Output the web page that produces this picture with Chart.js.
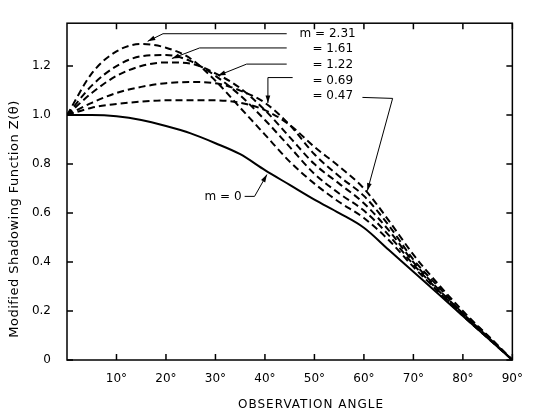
<!DOCTYPE html>
<html>
<head>
<meta charset="utf-8">
<script src="https://cdn.jsdelivr.net/npm/chart.js@4/dist/chart.umd.min.js"></script>
<style>
  html, body { margin: 0; padding: 0; background: #fff; }
  #wrap { width: 535px; height: 418px; }
</style>
</head>
<body>
<div id="wrap"><canvas id="chart"></canvas></div>
<script>
// observation angle in degrees
const angles = [0, 5, 10, 15, 20, 25, 30, 35, 40, 45, 50, 55, 60, 65, 70, 75, 80, 85, 90];

// modified shadowing function Z(theta) for each roughness m
const zM0   = [1.00, 1.00, 0.995, 0.98, 0.955, 0.925, 0.885, 0.84, 0.775, 0.715, 0.655, 0.60, 0.54, 0.45, 0.36, 0.27, 0.18, 0.09, 0];
const zM047 = [1.00, 1.03, 1.045, 1.055, 1.06, 1.06, 1.06, 1.05, 1.02, 0.96, 0.87, 0.79, 0.70, 0.57, 0.43, 0.31, 0.20, 0.10, 0];
const zM069 = [1.00, 1.05, 1.09, 1.115, 1.13, 1.135, 1.13, 1.10, 1.05, 0.96, 0.84, 0.75, 0.67, 0.55, 0.41, 0.30, 0.19, 0.10, 0];
const zM122 = [1.00, 1.09, 1.16, 1.20, 1.215, 1.21, 1.17, 1.11, 1.02, 0.91, 0.80, 0.72, 0.64, 0.53, 0.40, 0.29, 0.19, 0.095, 0];
const zM161 = [1.00, 1.12, 1.20, 1.24, 1.245, 1.22, 1.16, 1.08, 0.98, 0.87, 0.76, 0.68, 0.61, 0.51, 0.39, 0.285, 0.185, 0.095, 0];
const zM231 = [1.00, 1.17, 1.26, 1.29, 1.275, 1.23, 1.14, 1.03, 0.92, 0.81, 0.72, 0.645, 0.58, 0.49, 0.38, 0.28, 0.18, 0.09, 0];

const xTicks = [10, 20, 30, 40, 50, 60, 70, 80, 90];
const yTicks = [0, 0.2, 0.4, 0.6, 0.8, 1.0, 1.2];

// curve labels: text anchor and leader path (angle, Z), last point is the arrow tip
const notes = [
  { text: 'm = 2.31', at: [47.0, 1.332], path: [[44.4, 1.332], [19.4, 1.332], [16.3, 1.301]] },
  { text: '= 1.61',   at: [49.6, 1.270], path: [[44.4, 1.274], [26.8, 1.274], [21.2, 1.231]] },
  { text: '= 1.22',   at: [49.6, 1.204], path: [[44.4, 1.208], [36.3, 1.208], [30.5, 1.161]] },
  { text: '= 0.69',   at: [49.6, 1.138], path: [[45.6, 1.153], [40.6, 1.153], [40.6, 1.049]] },
  { text: '= 0.47',   at: [49.6, 1.080], path: [[59.7, 1.072], [65.8, 1.068], [60.7, 0.691]] },
  { text: 'm = 0',    at: [27.8, 0.668], path: [[35.9, 0.668], [37.9, 0.668], [40.4, 0.757]] }
];

const FONT = '"DejaVu Sans", sans-serif';

function pts(vals) {
  return angles.map((a, i) => ({ x: a, y: vals[i] }));
}

function dashed(vals) {
  return {
    data: pts(vals),
    borderColor: '#000',
    borderWidth: 2,
    borderDash: [7, 4],
    pointRadius: 0,
    cubicInterpolationMode: 'monotone'
  };
}

const framePlugin = {
  id: 'frame',
  afterDraw(chart) {
    const { ctx, chartArea: a, scales } = chart;
    const x = scales.x, y = scales.y;
    ctx.save();
    ctx.strokeStyle = '#000';
    ctx.lineWidth = 1.5;
    ctx.strokeRect(a.left, a.top, a.right - a.left, a.bottom - a.top);
    ctx.beginPath();
    xTicks.forEach(v => {
      const px = x.getPixelForValue(v);
      ctx.moveTo(px, a.bottom); ctx.lineTo(px, a.bottom - 6);
      ctx.moveTo(px, a.top); ctx.lineTo(px, a.top + 6);
    });
    yTicks.forEach(v => {
      const py = y.getPixelForValue(v);
      ctx.moveTo(a.left, py); ctx.lineTo(a.left + 6, py);
      ctx.moveTo(a.right, py); ctx.lineTo(a.right - 6, py);
    });
    ctx.stroke();

    // leader lines and labels
    ctx.lineWidth = 1;
    ctx.fillStyle = '#000';
    ctx.font = '12px ' + FONT;
    ctx.textBaseline = 'middle';
    ctx.textAlign = 'left';
    notes.forEach(n => {
      const p = n.path.map(q => [x.getPixelForValue(q[0]), y.getPixelForValue(q[1])]);
      ctx.beginPath();
      ctx.moveTo(p[0][0], p[0][1]);
      for (let i = 1; i < p.length; i++) ctx.lineTo(p[i][0], p[i][1]);
      ctx.stroke();
      const tip = p[p.length - 1], prev = p[p.length - 2];
      const ang = Math.atan2(tip[1] - prev[1], tip[0] - prev[0]);
      ctx.beginPath();
      ctx.moveTo(tip[0], tip[1]);
      ctx.lineTo(tip[0] - 8 * Math.cos(ang - 0.3), tip[1] - 8 * Math.sin(ang - 0.3));
      ctx.lineTo(tip[0] - 8 * Math.cos(ang + 0.3), tip[1] - 8 * Math.sin(ang + 0.3));
      ctx.closePath();
      ctx.fill();
      ctx.fillText(n.text, x.getPixelForValue(n.at[0]), y.getPixelForValue(n.at[1]));
    });

    // axis titles
    ctx.font = '13px ' + FONT;
    ctx.textAlign = 'center';
    ctx.letterSpacing = '0.5px';
    ctx.save();
    ctx.translate(15, 219);
    ctx.rotate(-Math.PI / 2);
    ctx.fillText('Modified Shadowing Function Z(\u03B8)', 0, 0);
    ctx.restore();
    ctx.font = '12px ' + FONT;
    ctx.letterSpacing = '1px';
    ctx.fillText('OBSERVATION ANGLE', 311, 405);
    ctx.restore();
  }
};

new Chart(document.getElementById('chart').getContext('2d'), {
  type: 'line',
  data: {
    datasets: [
      { data: pts(zM0), borderColor: '#000', borderWidth: 2, pointRadius: 0, cubicInterpolationMode: 'monotone' },
      dashed(zM047),
      dashed(zM069),
      dashed(zM122),
      dashed(zM161),
      dashed(zM231)
    ]
  },
  options: {
    responsive: true,
    maintainAspectRatio: false,
    animation: false,
    layout: { padding: { top: 7, right: 22, left: 0, bottom: 0 } },
    plugins: { legend: { display: false }, tooltip: { enabled: false } },
    scales: {
      x: {
        type: 'linear',
        min: 0,
        max: 90,
        afterBuildTicks: s => { s.ticks = xTicks.map(v => ({ value: v })); },
        afterFit: s => { s.height = 58; },
        grid: { display: false, drawTicks: false },
        border: { display: false },
        ticks: {
          color: '#000',
          padding: 12,
          maxRotation: 0,
          font: { family: FONT, size: 12 },
          callback: v => v + '\u00B0'
        }
      },
      y: {
        type: 'linear',
        min: 0,
        max: 1.375,
        afterBuildTicks: s => { s.ticks = yTicks.map(v => ({ value: v })); },
        afterFit: s => { s.width = 67; },
        grid: { display: false, drawTicks: false },
        border: { display: false },
        ticks: {
          color: '#000',
          padding: 16,
          font: { family: FONT, size: 12 },
          callback: v => (v === 0 ? '0' : v.toFixed(1))
        }
      }
    }
  },
  plugins: [framePlugin]
});
</script>
</body>
</html>
